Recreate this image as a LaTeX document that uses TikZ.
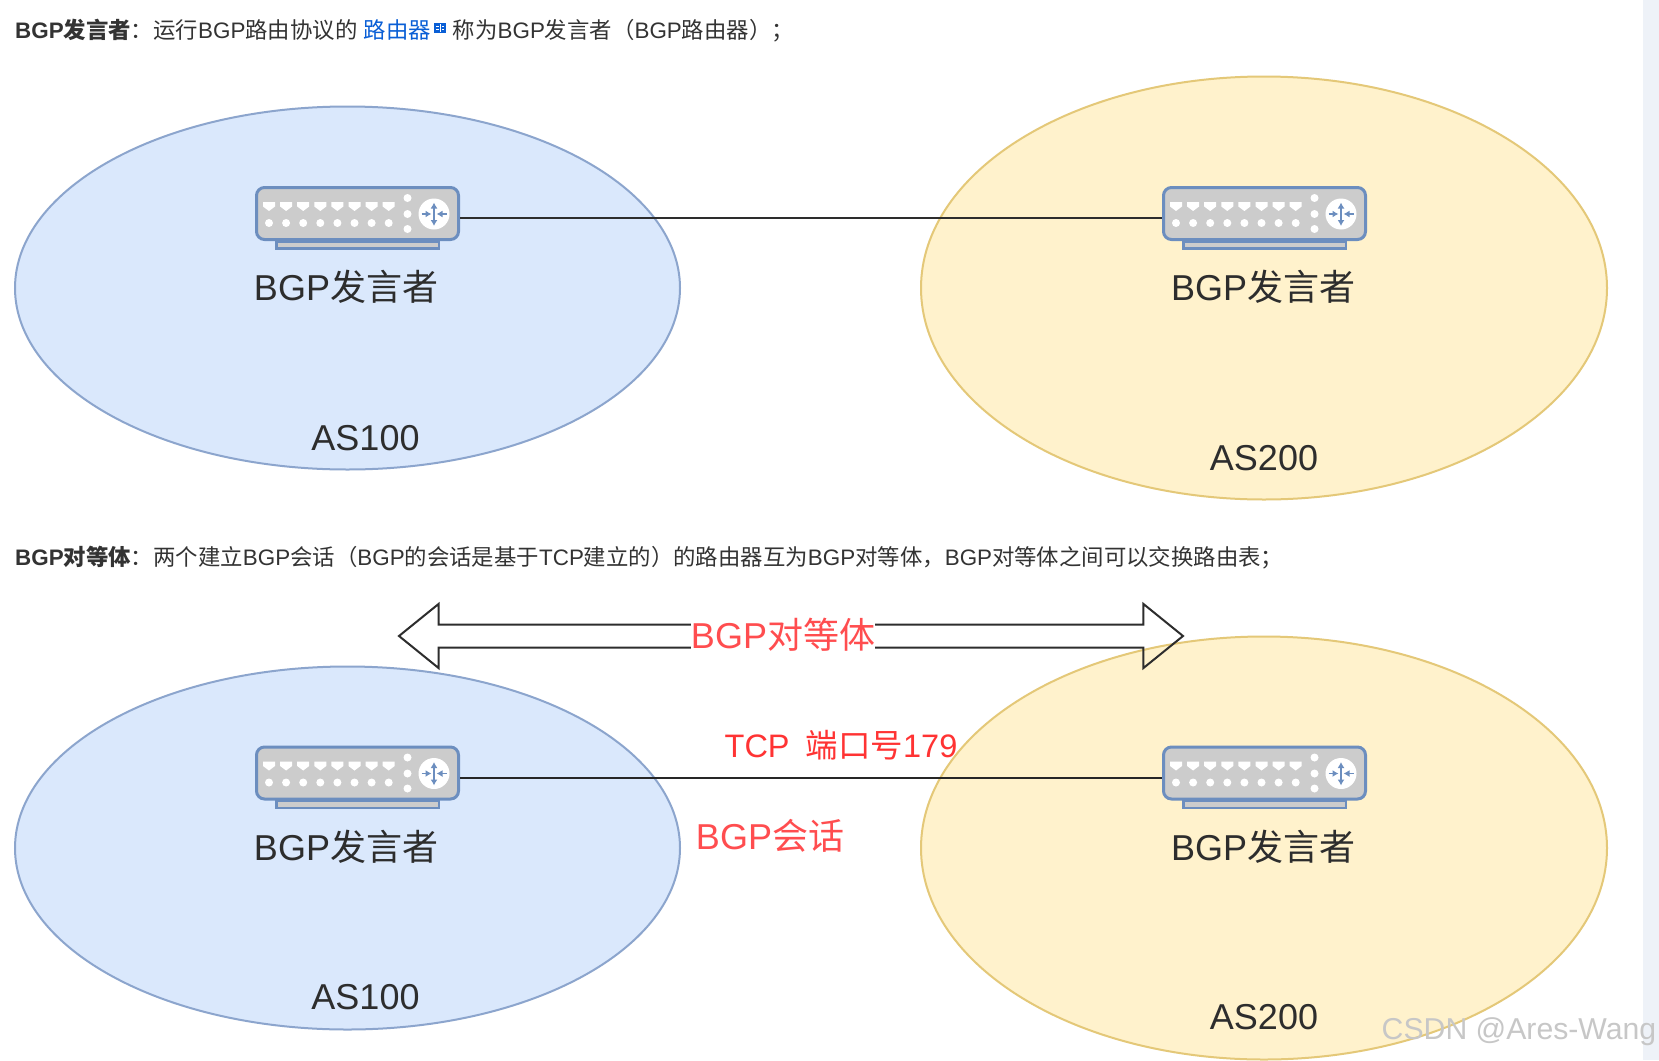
\documentclass[tikz,border=0pt]{standalone}
\usepackage{fontspec}
\usetikzlibrary{arrows.meta,shapes.geometric,shapes.arrows}
\setmainfont{Liberation Sans}
\newfontfamily\cjk{Noto Sans CJK SC}
\newcommand{\zh}[1]{{\cjk #1}}
\definecolor{PeerRed}{RGB}{255,77,79}
\definecolor{PortRed}{RGB}{255,51,51}
\definecolor{LinkBlue}{RGB}{10,95,214}
\definecolor{TextGrey}{RGB}{51,51,51}
\definecolor{LabelGrey}{RGB}{45,45,45}
\definecolor{RouterBlue}{RGB}{108,142,191}
\definecolor{RouterGrey}{RGB}{204,204,204}
\definecolor{ZoneBlue}{RGB}{218,232,252}
\definecolor{ZoneYellow}{RGB}{255,242,204}
\definecolor{ZoneBlueEdge}{RGB}{140,165,205}
\definecolor{ZoneEdge}{RGB}{228,200,120}
\definecolor{ScrollBar}{RGB}{238,242,248}
\tikzset{
  aszone/.style={ellipse, line width=2pt, inner sep=0pt},
  asblue/.style={aszone, fill=ZoneBlue, draw=ZoneBlueEdge, minimum width=665pt, minimum height=363pt},
  asyellow/.style={aszone, fill=ZoneYellow, draw=ZoneEdge, minimum width=686pt, minimum height=423pt},
  routerbody/.style={draw=RouterBlue, fill=RouterGrey, line width=3pt, rounded corners=8pt, minimum width=202pt, minimum height=52pt, inner sep=0pt},
  routerlabel/.style={text=LabelGrey, font=\fontsize{36}{40}\selectfont, inner sep=0pt},
  aslabel/.style={text=LabelGrey, font=\fontsize{36}{40}\selectfont, inner sep=0pt},
  headline/.style={anchor=west, text=TextGrey, font=\fontsize{22.4}{26}\selectfont, inner sep=0pt},
  peerlabel/.style={text=PeerRed, font=\fontsize{36}{40}\selectfont, inner sep=0pt},
  router/.pic={
    \draw[draw=RouterBlue, fill=RouterGrey, line width=2.5pt] (-81,28) rectangle (81.5,35);
    \foreach \i in {0,...,7} {
      \fill[white] (-94.5+\i*17.1,-11.5) -- (-82.5+\i*17.1,-11.5) -- (-82.5+\i*17.1,-7) -- (-88.5+\i*17.1,-2.5) -- (-94.5+\i*17.1,-7) -- cycle;
      \fill[white] (-88.5+\i*17.1,9.5) circle (4);
    }
    \foreach \j in {-15.5,0.5,15.5} \fill[white] (50,\j) circle (4);
    \fill[white] (76.5,0.5) circle (15.5);
    \draw[RouterBlue, line width=1.3pt, {Latex[length=6pt,width=7pt]}-{Latex[length=6pt,width=7pt]}] (76.5,-11) -- (76.5,12.5);
    \draw[RouterBlue, line width=1.3pt, -{Latex[length=6pt,width=7pt]}] (64,0.5) -- (74,0.5);
    \draw[RouterBlue, line width=1.3pt, -{Latex[length=6pt,width=7pt]}] (89,0.5) -- (79,0.5);
  },
}
\begin{document}
\begin{tikzpicture}[x=1pt, y=-1pt]
  \useasboundingbox (0,0) rectangle (1659,1060);
  \fill[white] (0,0) rectangle (1659,1060);
  \fill[ScrollBar] (1643,0) rectangle (1659,1060);

  % upper part
  \node[headline] (speakertext) at (15,31) {{\bfseries BGP\zh{发言者}}\zh{：运行}BGP\zh{路由协议的} \textcolor{LinkBlue}{\zh{路由器}}\hspace{22pt}\zh{称为}BGP\zh{发言者（}BGP\zh{路由器）；}};
  \fill[LinkBlue] (434,23) rectangle (446,33);
  \draw[white, line width=0.8pt] (440,24) -- (440,32) (436,26) -- (438.5,26) (436,29) -- (438.5,29) (441.5,26) -- (444,26) (441.5,29) -- (444,29);

  \node[asblue] (as1) at (347.5,288) {};
  \node[asyellow] (as2) at (1264,288) {};
  \node[routerbody] (r1) at (357.5,213.5) {};
  \node[routerbody] (r2) at (1264.5,213.5) {};
  \pic at (r1) {router};
  \pic at (r2) {router};
  \draw[line width=2pt, LabelGrey] ([yshift=-4.5pt]r1.east) -- ([yshift=-4.5pt]r2.west);
  \node[routerlabel] (s1) at (346,287) {BGP\zh{发言者}};
  \node[routerlabel] (s2) at (1263,287) {BGP\zh{发言者}};
  \node[aslabel] (a1) at (365.5,438) {AS100};
  \node[aslabel] (a2) at (1264,458) {AS200};

  % lower part
  \node[headline] (peertext) at (15,557.5) {{\bfseries BGP\zh{对等体}}\zh{：两个建立}BGP\zh{会话（}BGP\zh{的会话是基于}TCP\zh{建立的）的路由器互为}BGP\zh{对等体，}BGP\zh{对等体之间可以交换路由表；}};

  \node[asblue] (as3) at (347.5,848) {};
  \node[asyellow] (as4) at (1264,848) {};
  \node[routerbody] (r3) at (357.5,773) {};
  \node[routerbody] (r4) at (1264.5,773) {};
  \pic at (r3) {router};
  \pic at (r4) {router};
  \draw[line width=2pt, black!85] ([yshift=-4.5pt]r3.east) -- ([yshift=-4.5pt]r4.west);
  \node[routerlabel] (s3) at (346,846.5) {BGP\zh{发言者}};
  \node[routerlabel] (s4) at (1263,846.5) {BGP\zh{发言者}};
  \node[aslabel] (a3) at (365.5,997.5) {AS100};
  \node[aslabel] (a4) at (1264,1017.5) {AS200};

  \node[draw=LabelGrey, line width=2pt, double arrow, double arrow head extend=20.5pt, double arrow tip angle=78, minimum height=784pt, inner xsep=0pt, inner ysep=10.5pt] (peerarrow) at (791,636) {};
  \node[peerlabel, fill=white] (peer) at (783,635) {BGP\zh{对等体}};
  \node[peerlabel, text=PortRed, font=\fontsize{32.5}{38}\selectfont] (port) at (841,745) {TCP\hspace{16pt}\zh{端口号}179};
  \node[peerlabel] (session) at (770,836) {BGP\zh{会话}};

  \node[text=black!22, font=\fontsize{30.2}{36}\selectfont, inner sep=0pt] (mark) at (1519,1032) {CSDN @Ares-Wang};
\end{tikzpicture}
\end{document}
